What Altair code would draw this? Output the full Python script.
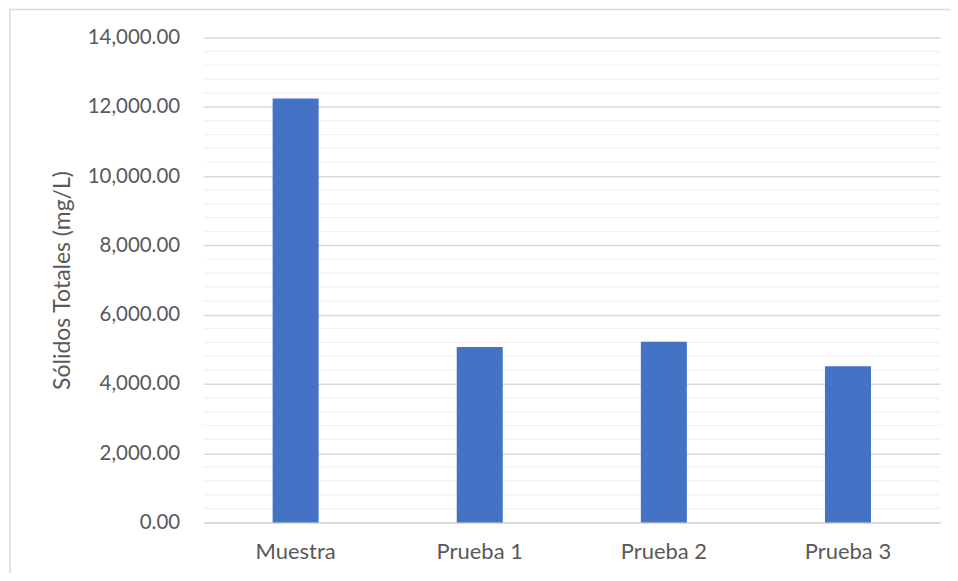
import altair as alt
import pandas as pd

categories = ["Muestra", "Prueba 1", "Prueba 2", "Prueba 3"]
values = [12240, 5070, 5220, 4510]
major_ticks = [0, 2000, 4000, 6000, 8000, 10000, 12000, 14000]
minor_ticks = [v for v in range(400, 14000, 400) if v % 2000 != 0]

df = pd.DataFrame({"cat": categories, "val": values})
minor_df = pd.DataFrame({"v": minor_ticks})

FONT = "Lato"
TXT = "#595959"

y_scale = alt.Scale(domain=[0, 14000], nice=False)

border = alt.Chart(pd.DataFrame({"a": [0]})).mark_rect(
    fill=None, stroke="#D9D9D9", strokeWidth=1.5
).encode(
    x=alt.value(-194), x2=alt.value(800), y=alt.value(-28), y2=alt.value(600)
)

minor = alt.Chart(minor_df).mark_rule(color="#F2F2F2", strokeWidth=1.2).encode(
    y=alt.Y("v:Q", scale=y_scale)
)

bars = alt.Chart(df).mark_bar(color="#4472C4").encode(
    x=alt.X(
        "cat:N",
        sort=categories,
        scale=alt.Scale(paddingInner=0.75, paddingOuter=0.375),
        axis=alt.Axis(
            title=None, labelAngle=0, ticks=False, grid=False, domainColor="#D9D9D9",
            domainWidth=1.5, labelPadding=19, labelFont=FONT, labelFontSize=22,
            labelColor=TXT,
        ),
    ),
    y=alt.Y(
        "val:Q",
        scale=y_scale,
        axis=alt.Axis(
            title="Sólidos Totales (mg/L)", values=major_ticks, format=",.2f",
            domain=False, ticks=False, gridColor="#D9D9D9", gridWidth=1.5,
            labelPadding=24, labelFont=FONT, labelFontSize=20.5, labelColor=TXT,
            titleFont=FONT, titleFontSize=23, titleFontWeight="normal",
            titleColor=TXT, titlePadding=13,
        ),
    ),
)

chart = alt.layer(border, minor, bars).properties(
    width=738,
    height=486,
    autosize=alt.AutoSizeParams(type="none"),
    padding={"left": 196, "top": 29, "right": 10, "bottom": 50},
).configure(background="white").configure_view(stroke="transparent", strokeWidth=0)

chart.save("out.html", embed_options={"renderer": "svg", "actions": False})
